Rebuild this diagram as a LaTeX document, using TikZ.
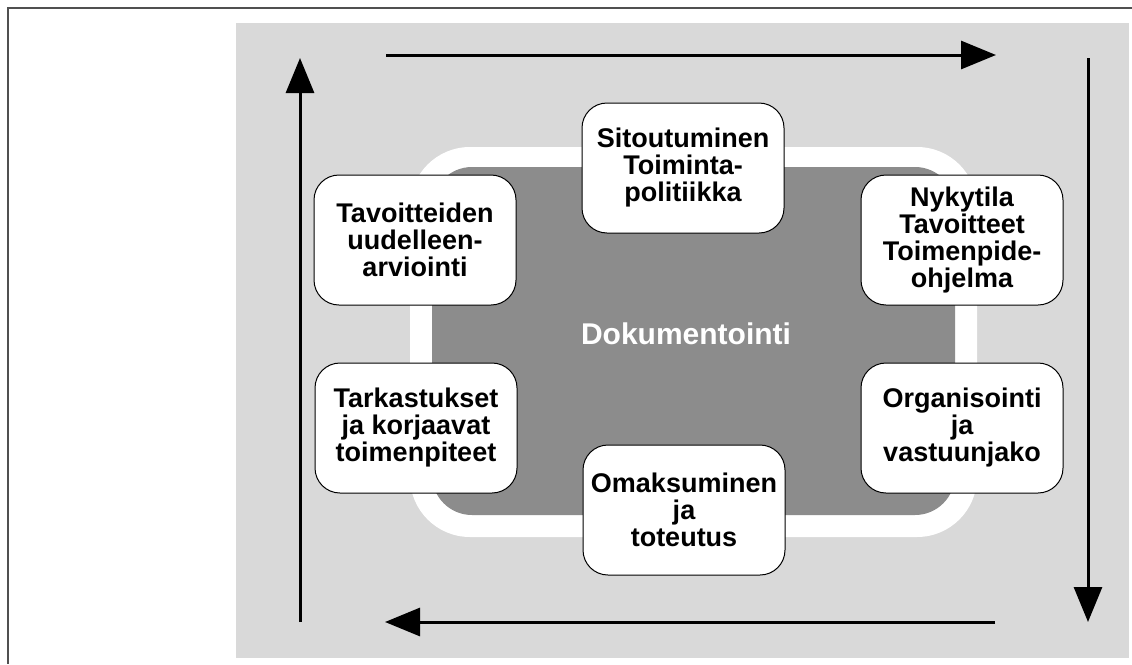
\documentclass[tikz,border=0pt]{standalone}
\usepackage{fontspec}
\setmainfont{Liberation Sans}
\usetikzlibrary{arrows.meta,positioning}
\definecolor{bggray}{HTML}{D9D9D9}
\definecolor{docgray}{HTML}{8C8C8C}
\definecolor{framegray}{HTML}{505050}
\begin{document}
\begin{tikzpicture}[x=1pt,y=-1pt, every node/.style={align=center,font=\fontsize{27}{27}\selectfont\bfseries}, phase/.style={draw,line width=1pt,fill=white,rounded corners=25pt,minimum width=202pt,minimum height=130pt,inner sep=2pt}, arr/.style={-{Triangle[length=35pt,width=28pt]},line width=3pt}]
\useasboundingbox (0,0) rectangle (1132,664);
\draw[framegray,line width=1.8pt] (1132,8) -- (8,8) -- (8,664);
\fill[bggray] (236,23) rectangle (1129,658);
\fill[white,rounded corners=60pt] (410,147) rectangle (977,537);
\fill[docgray,rounded corners=40pt] (432,167) rectangle (955,515);
\node[white,font=\fontsize{30}{30}\selectfont\bfseries] (doc) at (686,334) {Dokumentointi};
\node[phase] (sit) at (683,168) {Sitoutuminen\\Toiminta-\\politiikka};
\node[phase] (nyk) at (962,240) {Nykytila\\Tavoitteet\\Toimenpide-\\ohjelma};
\node[phase] (org) at (962,428) {Organisointi\\ja\\vastuunjako};
\node[phase] (oma) at (684,510) {Omaksuminen\\ja\\toteutus};
\node[phase] (tar) at (416,428) {Tarkastukset\\ja korjaavat\\toimenpiteet};
\node[phase] (tav) at (415,240) {Tavoitteiden\\uudelleen-\\arviointi};
\coordinate (topS) at (386,55); \coordinate (topE) at (996,55);
\coordinate (rgtS) at (1088,58); \coordinate (rgtE) at (1088,622);
\coordinate (botS) at (995,622); \coordinate (botE) at (385,622);
\coordinate (lftS) at (300,622); \coordinate (lftE) at (300,58);
\draw[arr] (topS)--(topE);\draw[arr] (rgtS)--(rgtE);\draw[arr] (botS)--(botE);\draw[arr] (lftS)--(lftE);
\end{tikzpicture}
\end{document}
